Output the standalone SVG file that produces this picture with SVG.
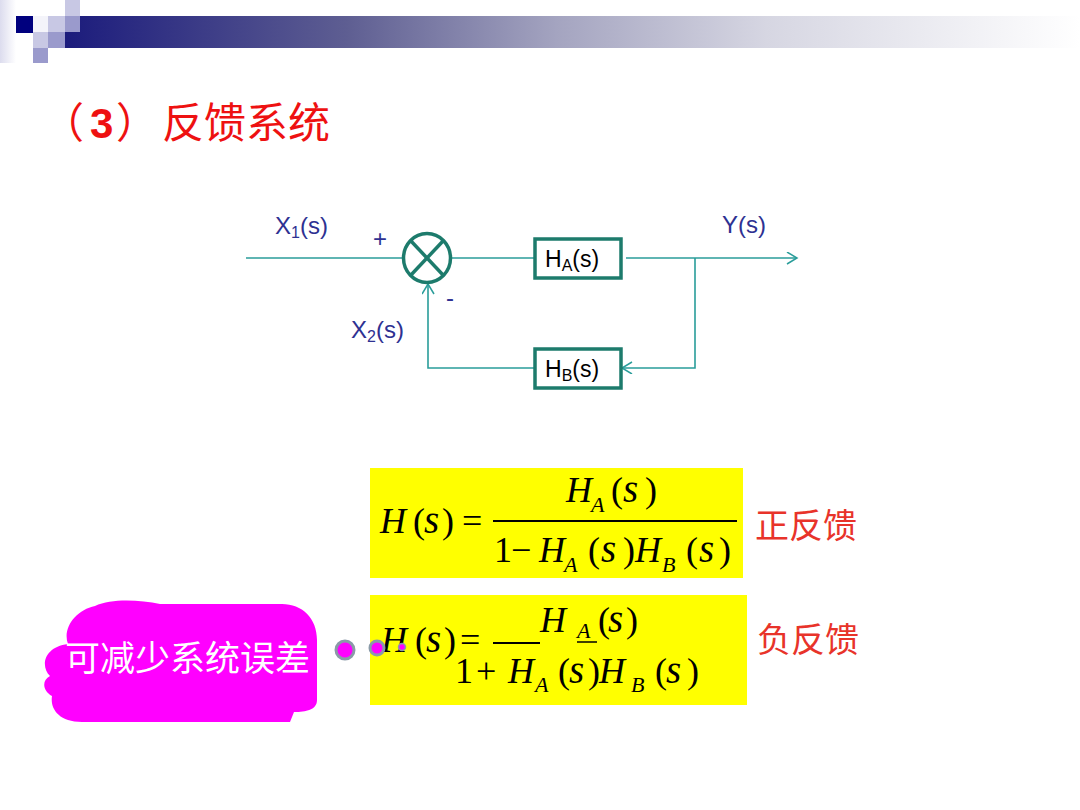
<svg xmlns="http://www.w3.org/2000/svg" width="1080" height="810" viewBox="0 0 1080 810">
<defs>
<linearGradient id="bar" x1="0" y1="0" x2="1" y2="0">
<stop offset="0" stop-color="#14147a"/>
<stop offset="0.3" stop-color="#5e5e92"/>
<stop offset="0.5" stop-color="#a4a4c0"/>
<stop offset="0.7" stop-color="#d6d6e2"/>
<stop offset="1" stop-color="#ffffff"/>
</linearGradient>
<linearGradient id="side" x1="0" y1="0" x2="1" y2="0">
<stop offset="0" stop-color="#dcdcee"/>
<stop offset="1" stop-color="#ffffff"/>
</linearGradient>
<marker id="arr" markerUnits="userSpaceOnUse" markerWidth="14" markerHeight="14" refX="11" refY="6" orient="auto">
<path d="M1,0 L11,6 L1,12" fill="none" stroke="#2a9d9a" stroke-width="1.5"/>
</marker>
</defs>
<style>
.ln{fill:none;stroke:#2a9d9a;stroke-width:1.6}
.box{fill:#ffffff;stroke:#1d7b6c;stroke-width:3.5}
.lbl{font-family:"Liberation Sans",Arial,sans-serif;font-size:24px;fill:#2e3192}
.btx{font-family:"Liberation Sans",Arial,sans-serif;font-size:23px;fill:#000}
.sub{font-size:16px}
.m{font-family:"Liberation Serif","Times New Roman",serif;font-size:36px;fill:#000}
.i{font-style:italic}
.v{font-style:italic;font-size:39px}
.s{font-size:22px;font-style:italic}
.red{font-family:"Noto Sans CJK SC",sans-serif;font-size:34px;fill:#e8332a}
.dot{fill:#ff00ff;stroke:#8a9aa8}
</style>
<rect width="1080" height="810" fill="#ffffff"/>
<g id="header">
<rect x="0" y="0" width="16" height="63" fill="url(#side)"/>
<rect x="33" y="16" width="1047" height="32" fill="url(#bar)"/>
<rect x="16" y="16" width="17" height="17" fill="#00007e"/>
<rect x="33" y="16" width="15" height="16" fill="#f4f4fa"/>
<rect x="48" y="16" width="17" height="16" fill="#c8c8e4"/>
<rect x="65" y="16" width="15" height="16" fill="#9a9acc"/>
<rect x="65" y="0" width="15" height="16" fill="#c8c8e4"/>
<rect x="33" y="32" width="15" height="16" fill="#c8c8e4"/>
<rect x="48" y="32" width="17" height="16" fill="#9a9acc"/>
<rect x="33" y="48" width="15" height="15" fill="#9a9acc"/>
</g>
<text id="title" y="138" font-family="'Liberation Sans','Noto Sans CJK SC',sans-serif" font-size="42" fill="#ee1111"><tspan x="42">（</tspan><tspan x="90" font-weight="bold">3</tspan><tspan x="116">）</tspan><tspan x="162">反馈系统</tspan></text>
<g id="connectors">
<line class="ln" x1="246" y1="258" x2="403" y2="258"/>
<line class="ln" x1="451" y1="258" x2="534" y2="258"/>
<line class="ln" x1="626" y1="258" x2="797" y2="258" marker-end="url(#arr)"/>
<polyline class="ln" points="695,258 695,368 622,368" marker-end="url(#arr)"/>
<polyline class="ln" points="534,368 428,368 428,284" marker-end="url(#arr)"/>
</g>
<g id="sum">
<ellipse cx="427" cy="258" rx="23.5" ry="24.5" fill="none" stroke="#1d7b6c" stroke-width="3.5"/>
<line x1="410.5" y1="240.5" x2="443.5" y2="275.5" stroke="#1d7b6c" stroke-width="3.5"/>
<line x1="443.5" y1="240.5" x2="410.5" y2="275.5" stroke="#1d7b6c" stroke-width="3.5"/>
</g>
<g id="HA">
<rect class="box" x="535" y="239" width="86" height="39"/>
<text class="btx" x="545" y="267">H<tspan class="sub" dy="4">A</tspan><tspan dy="-4">(s)</tspan></text>
</g>
<g id="HB">
<rect class="box" x="535" y="349" width="86" height="39"/>
<text class="btx" x="545" y="377">H<tspan class="sub" dy="4">B</tspan><tspan dy="-4">(s)</tspan></text>
</g>
<g id="labels">
<text class="lbl" x="275" y="234">X<tspan class="sub" dy="4">1</tspan><tspan dy="-4">(s)</tspan></text>
<text class="lbl" x="373" y="247">+</text>
<text class="lbl" x="722" y="233">Y(s)</text>
<text class="lbl" x="446" y="306">-</text>
<text class="lbl" x="351" y="338">X<tspan class="sub" dy="4">2</tspan><tspan dy="-4">(s)</tspan></text>
</g>
<g id="formula1">
<rect x="370" y="468" width="373" height="110" fill="#ffff00"/>
<text class="m" y="533"><tspan class="i" x="380">H</tspan><tspan x="413">(</tspan><tspan class="v" x="424">s</tspan><tspan x="442">)</tspan><tspan x="462">=</tspan></text>
<line x1="493" y1="521" x2="737" y2="521" stroke="#000" stroke-width="2"/>
<text class="m" y="502"><tspan class="i" x="566">H</tspan><tspan class="s" x="591" y="512">A</tspan><tspan x="611" y="502">(</tspan><tspan class="v" x="623">s</tspan><tspan x="645">)</tspan></text>
<text class="m" y="562"><tspan x="494">1</tspan><tspan x="511">−</tspan><tspan class="i" x="539">H</tspan><tspan class="s" x="564" y="572">A</tspan><tspan x="588" y="562">(</tspan><tspan class="v" x="601">s</tspan><tspan x="623">)</tspan><tspan class="i" x="635">H</tspan><tspan class="s" x="662" y="572">B</tspan><tspan x="686" y="562">(</tspan><tspan class="v" x="699">s</tspan><tspan x="719">)</tspan></text>
</g>
<text id="pos" class="red" x="755" y="538">正反馈</text>
<g id="formula2">
<rect x="370" y="595" width="377" height="110" fill="#ffff00"/>
<text class="m" y="652"><tspan class="i" x="381">H</tspan><tspan x="415">(</tspan><tspan class="v" x="426">s</tspan><tspan x="444">)</tspan><tspan x="460">=</tspan></text>
<line x1="493" y1="643" x2="540" y2="643" stroke="#000" stroke-width="2"/>
<text class="m" y="632"><tspan class="i" x="540">H</tspan><tspan class="s" x="577" y="638">A</tspan><tspan x="598" y="632">(</tspan><tspan class="v" x="608">s</tspan><tspan x="626">)</tspan></text>
<line x1="577" y1="642" x2="597" y2="642" stroke="#000" stroke-width="1.5"/>
<text class="m" y="683"><tspan x="455">1</tspan><tspan x="476">+</tspan><tspan class="i" x="508">H</tspan><tspan class="s" x="535" y="692">A</tspan><tspan x="558" y="683">(</tspan><tspan class="v" x="569">s</tspan><tspan x="588">)</tspan><tspan class="i" x="599">H</tspan><tspan class="s" x="631" y="692">B</tspan><tspan x="655" y="683">(</tspan><tspan class="v" x="666">s</tspan><tspan x="687">)</tspan></text>
</g>
<text id="neg" class="red" x="757" y="652">负反馈</text>
<g id="callout">
<path d="M95,606 C112,598 140,600 160,604 L282,604 C302,604 317,618 317,640 L317,700 C317,710 306,712 294,712 L290,722 L82,722 C58,722 50,708 52,696 C42,690 42,680 50,676 C40,666 44,647 68,644 C62,628 76,610 95,606 Z" fill="#ff00ff"/>
<text x="65" y="671" font-family="'Noto Sans CJK SC',sans-serif" font-size="35" fill="#ffffff">可减少系统误差</text>
<circle class="dot" cx="345" cy="650" r="9" stroke-width="3"/>
<circle class="dot" cx="377" cy="648" r="7" stroke-width="3"/>
<circle class="dot" cx="402" cy="647" r="3.5" stroke-width="1.5"/>
</g>
</svg>
